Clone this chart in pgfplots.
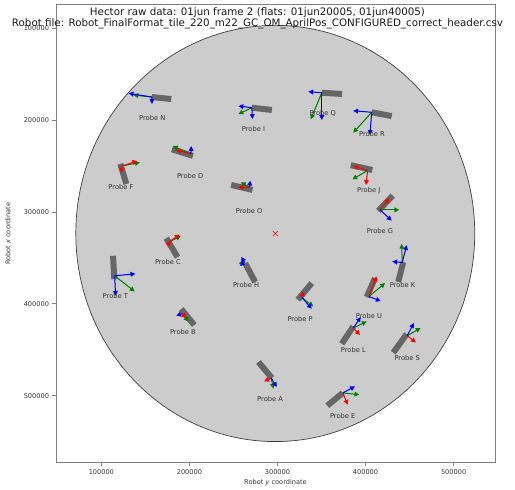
\documentclass[border=0pt]{standalone}
\usepackage{fontspec}
\setmainfont{DejaVu Sans}
\usepackage{pgfplots}
\pgfplotsset{compat=1.18}
\usetikzlibrary{arrows.meta}
\definecolor{probegray}{HTML}{666666}
\definecolor{circgray}{HTML}{CCCCCC}
\definecolor{mplgreen}{HTML}{008000}
\definecolor{txtgray}{HTML}{333333}
\tikzset{
  prb/.style={line width=6pt, draw=probegray, mark=none},
  ar/.style={line width=1pt, mark=none, -{Triangle[length=4.8pt,width=4.8pt]}},
  ra/.style={ar, draw=red, fill=red},
  ga/.style={ar, draw=mplgreen, fill=mplgreen},
  ba/.style={ar, draw=blue, fill=blue},
  lbl/.style={font=\fontsize{6.7}{8}\selectfont, text=txtgray, inner sep=0pt, anchor=center},
}
\begin{document}
\begin{tikzpicture}
\begin{axis}[
  scale only axis, width=439pt, height=458pt,
  xmin=48500, xmax=547000, ymin=74500, ymax=573000,
  y dir=reverse,
  xtick={100000,200000,300000,400000,500000},
  ytick={100000,200000,300000,400000,500000},
  scaled ticks=false,
  /pgf/number format/fixed, /pgf/number format/1000 sep={},
  /pgf/number format/assume math mode=true,
  tick label style={font=\fontsize{6.6}{8}\selectfont, text=txtgray},
  axis line style={draw=black!50, line width=0.8pt},
  tick style={draw=black!50, line width=0.6pt},
  tick align=outside, major tick length=3.5pt,
  xtick pos=bottom, ytick pos=left,
  xlabel={Robot \textit{y} coordinate},
  ylabel={Robot \textit{x} coordinate},
  label style={font=\fontsize{6.6}{8}\selectfont, text=txtgray},
  xlabel style={at={(axis description cs:0.5,-0.0443)}, anchor=center},
  ylabel style={at={(axis description cs:-0.1093,0.5)}, anchor=center},
  title={Hector raw data: 01jun frame 2 (flats: 01jun20005, 01jun40005)\\Robot file: Robot\_FinalFormat\_tile\_220\_m22\_GC\_OM\_AprilPos\_CONFIGURED\_correct\_header.csv},
  title style={at={(axis description cs:0.5,1)}, anchor=north, inner sep=0pt, yshift=-9pt, xshift=-18pt, align=center, font=\fontsize{10.3}{10.9}\selectfont, text=black!90},
]
% field circle
\draw[fill=circgray, draw=black!75, line width=0.7pt] (axis cs:297500,323500) ellipse [x radius=226500, y radius=226500];
% centre marker
\addplot[only marks, mark=x, mark size=3.5pt, draw=red, line width=0.6pt] coordinates {(297500,323500)};

% Probe N
\addplot[prb] coordinates {(157300,175000)(179400,177200)};
\addplot[ga] coordinates {(157300,175000)(136300,172800)};
\addplot[ba] coordinates {(157300,175000)(131000,171000)};
\addplot[ba] coordinates {(157300,175000)(157500,182600)};
\node[lbl] at (axis cs:157800,197500) {Probe N};
% Probe I
\addplot[prb] coordinates {(270900,186600)(293600,189100)};
\addplot[ga] coordinates {(270900,186600)(255700,193500)};
\addplot[ba] coordinates {(270900,186600)(255700,184800)};
\addplot[ba] coordinates {(270900,186600)(271600,198900)};
\node[lbl] at (axis cs:272700,209800) {Probe I};
% Probe Q
\addplot[prb] coordinates {(350300,170300)(373300,171700)};
\addplot[ga] coordinates {(350300,170300)(337800,199200)};
\addplot[ba] coordinates {(350300,170300)(335100,169200)};
\addplot[ba] coordinates {(350300,170300)(350300,200000)};
\node[lbl] at (axis cs:351400,193200) {Probe Q};
% Probe R
\addplot[prb] coordinates {(407000,191600)(429700,195700)};
\addplot[ga] coordinates {(407000,191600)(386100,213800)};
\addplot[ba] coordinates {(407000,191600)(386100,189900)};
\addplot[ba] coordinates {(407000,191600)(405000,216300)};
\node[lbl] at (axis cs:407300,215500) {Probe R};
% Probe J
\addplot[prb] coordinates {(383200,249200)(407700,254400)};
\addplot[ga] coordinates {(402400,255100)(385000,264500)};
\addplot[ra] coordinates {(402400,255100)(386100,250000)};
\addplot[ra] coordinates {(402400,255100)(400500,270700)};
\node[lbl] at (axis cs:403600,277200) {Probe J};
% Probe D
\addplot[prb] coordinates {(180200,231900)(204000,239100)};
\addplot[ga] coordinates {(201700,237000)(181300,228300)};
\addplot[ra] coordinates {(201700,237000)(184700,232600)};
\addplot[ba] coordinates {(201700,237000)(202100,228300)};
\node[lbl] at (axis cs:200900,260900) {Probe D};
% Probe F
\addplot[prb] coordinates {(121500,247800)(128400,269600)};
\addplot[ga] coordinates {(123500,250000)(143700,246200)};
\addplot[ra] coordinates {(123500,250000)(140800,244600)};
\addplot[ra] coordinates {(123500,250000)(122700,257600)};
\node[lbl] at (axis cs:122300,272800) {Probe F};
% Probe O
\addplot[prb] coordinates {(247400,270700)(271600,276100)};
\addplot[ga] coordinates {(268200,273200)(258400,267700)};
\addplot[ra] coordinates {(268200,273200)(255700,273200)};
\addplot[ba] coordinates {(268200,273200)(269000,266000)};
\node[lbl] at (axis cs:267800,298600) {Probe O};
% Probe C
\addplot[prb] coordinates {(173700,328600)(186500,349200)};
\addplot[ga] coordinates {(176000,333400)(190200,326100)};
\addplot[ra] coordinates {(176000,333400)(188800,324700)};
\addplot[ra] coordinates {(176000,333400)(176800,338400)};
\node[lbl] at (axis cs:175600,354400) {Probe C};
% Probe T
\addplot[prb] coordinates {(113300,347800)(114700,373200)};
\addplot[ga] coordinates {(115100,369600)(137800,386600)};
\addplot[ba] coordinates {(115100,369600)(138600,367400)};
\addplot[ba] coordinates {(115100,369600)(116200,391300)};
\node[lbl] at (axis cs:115900,392100) {Probe T};
% Probe B
\addplot[prb] coordinates {(190700,405800)(205500,423200)};
\addplot[ga] coordinates {(191500,410900)(199000,419300)};
\addplot[ra] coordinates {(191500,410900)(196400,415600)};
\addplot[ba] coordinates {(191500,410900)(185100,413100)};
\node[lbl] at (axis cs:192600,430400) {Probe B};
% Probe H
\addplot[prb] coordinates {(263300,355800)(274600,376300)};
\addplot[ga] coordinates {(262700,354900)(255900,356000)};
\addplot[ba] coordinates {(262700,354900)(258800,349000)};
\addplot[ba] coordinates {(262700,354900)(257100,358700)};
\node[lbl] at (axis cs:264400,380100) {Probe H};
% Probe P
\addplot[prb] coordinates {(338900,377500)(323100,395700)};
\addplot[ra] coordinates {(327600,393200)(329400,386600)};
\addplot[ga] coordinates {(327600,393200)(340700,402900)};
\addplot[ba] coordinates {(327600,393200)(338900,405400)};
\node[lbl] at (axis cs:325700,416600) {Probe P};
% Probe U
\addplot[prb] coordinates {(410700,372100)(401300,392700)};
\addplot[ra] coordinates {(403900,392100)(412600,370300)};
\addplot[ga] coordinates {(403900,392100)(422100,377500)};
\addplot[ba] coordinates {(403900,392100)(417200,397100)};
\node[lbl] at (axis cs:403900,413800) {Probe U};
% Probe K
\addplot[prb] coordinates {(442800,354700)(437100,376300)};
\addplot[ga] coordinates {(441700,355100)(441000,334800)};
\addplot[ba] coordinates {(441700,355100)(446700,336200)};
\addplot[ba] coordinates {(441700,355100)(430300,354000)};
\node[lbl] at (axis cs:442100,379700) {Probe K};
% Probe G
\addplot[prb] coordinates {(430800,282300)(414500,298900)};
\addplot[ra] coordinates {(416400,297800)(426900,285100)};
\addplot[ga] coordinates {(416400,297800)(438300,297800)};
\addplot[ba] coordinates {(416400,297800)(429700,309500)};
\node[lbl] at (axis cs:416400,320700) {Probe G};
% Probe L
\addplot[prb] coordinates {(386100,424700)(373000,443500)};
\addplot[ra] coordinates {(386100,426400)(393700,434000)};
\addplot[ga] coordinates {(386100,426400)(401300,419300)};
\addplot[ba] coordinates {(386100,426400)(394500,414500)};
\node[lbl] at (axis cs:386100,450800) {Probe L};
% Probe S
\addplot[prb] coordinates {(446700,433000)(431500,453200)};
\addplot[ra] coordinates {(447300,434800)(457200,442100)};
\addplot[ga] coordinates {(447300,434800)(462500,426400)};
\addplot[ba] coordinates {(447300,434800)(454900,421000)};
\node[lbl] at (axis cs:447300,459000) {Probe S};
% Probe A
\addplot[prb] coordinates {(278400,463400)(293600,480800)};
\addplot[ra] coordinates {(292800,480800)(284800,484500)};
\addplot[ga] coordinates {(292800,480800)(295400,492400)};
\addplot[ba] coordinates {(292800,480800)(299200,490600)};
\node[lbl] at (axis cs:291600,503200) {Probe A};
% Probe E
\addplot[prb] coordinates {(374100,497100)(356600,510900)};
\addplot[ra] coordinates {(374100,497100)(379800,509800)};
\addplot[ga] coordinates {(374100,497100)(392900,498900)};
\addplot[ba] coordinates {(374100,497100)(388000,489900)};
\node[lbl] at (axis cs:374100,521800) {Probe E};
\end{axis}
\pgfresetboundingbox
\path[use as bounding box] ([shift={(-56pt,-27.3pt)}]current axis.south west) rectangle ([shift={(20pt,4.7pt)}]current axis.north east);
\end{tikzpicture}
\end{document}
